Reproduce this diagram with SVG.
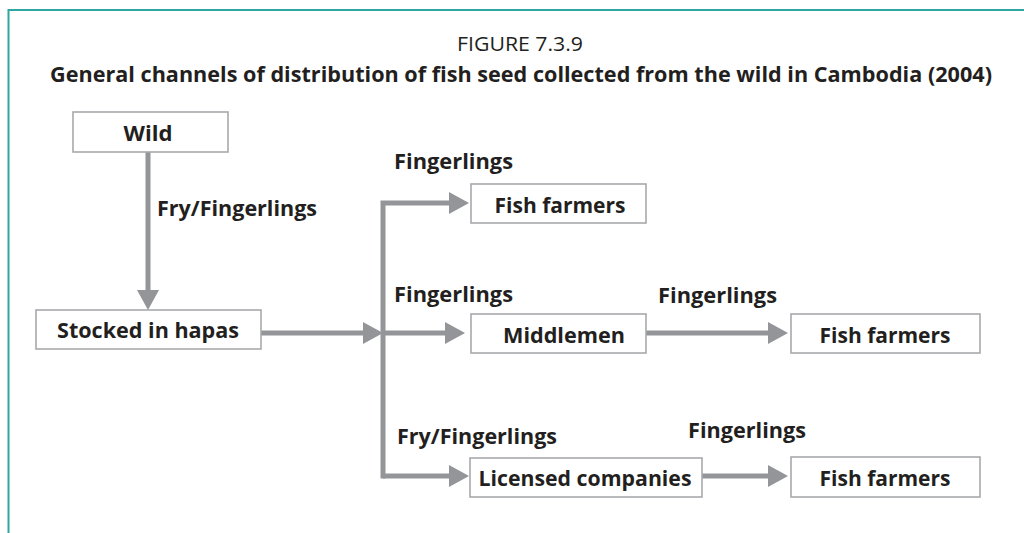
<svg xmlns="http://www.w3.org/2000/svg" width="1024" height="533" viewBox="0 0 1024 533">
  <style>
    .frame { fill: none; stroke: #2ea7a2; stroke-width: 2; }
    .box { fill: #ffffff; stroke: #a7a9ac; stroke-width: 1.6; }
    .lbl { font-family: "Open Sans", "Noto Sans", "Liberation Sans", sans-serif; font-weight: bold; font-size: 21px; fill: #231f20; }
    .mid { text-anchor: middle; }
    .cap { font-family: "Open Sans", "Noto Sans", "Liberation Sans", sans-serif; font-size: 20px; fill: #231f20; text-anchor: middle; }
    .flow { fill: none; stroke: #939598; stroke-width: 5; stroke-linecap: butt; stroke-linejoin: miter; marker-end: url(#head); }
  </style>
  <defs>
    <marker id="head" markerUnits="userSpaceOnUse" markerWidth="20" markerHeight="22" refX="0" refY="11" orient="auto" overflow="visible">
      <path d="M0,0 L20,11 L0,22 Z" fill="#939598"/>
    </marker>
  </defs>

  <rect width="1024" height="533" fill="#ffffff"/>

  <!-- page frame: top and left rules -->
  <path class="frame" d="M8.5,533 V10 H1024"/>

  <!-- caption -->
  <g id="caption">
    <text class="cap" x="520" y="51" textLength="126" lengthAdjust="spacingAndGlyphs">FIGURE 7.3.9</text>
    <text class="lbl mid" x="521" y="82" font-size="20" textLength="942" lengthAdjust="spacingAndGlyphs">General channels of distribution of fish seed collected from the wild in Cambodia (2004)</text>
  </g>

  <!-- connectors -->
  <g id="connectors">
    <path class="flow" d="M148,152 V290"/>
    <path class="flow" d="M261,333 H363"/>
    <!-- distribution trunk with upper and lower branches -->
    <path class="flow" d="M383,478.5 V203 H449"/>
    <path class="flow" d="M383,476 H449"/>
    <path class="flow" d="M383,333 H445"/>
    <path class="flow" d="M646,333 H768"/>
    <path class="flow" d="M702,476 H768"/>
  </g>

  <!-- flow labels -->
  <g id="labels">
    <text class="lbl" x="157" y="216" textLength="160" lengthAdjust="spacingAndGlyphs">Fry/Fingerlings</text>
    <text class="lbl" x="394" y="169" textLength="119" lengthAdjust="spacingAndGlyphs">Fingerlings</text>
    <text class="lbl" x="394" y="302" textLength="119" lengthAdjust="spacingAndGlyphs">Fingerlings</text>
    <text class="lbl" x="658" y="303" textLength="119" lengthAdjust="spacingAndGlyphs">Fingerlings</text>
    <text class="lbl" x="397" y="444" textLength="160" lengthAdjust="spacingAndGlyphs">Fry/Fingerlings</text>
    <text class="lbl" x="688" y="438" textLength="118" lengthAdjust="spacingAndGlyphs">Fingerlings</text>
  </g>

  <!-- nodes -->
  <g id="wild">
    <rect class="box" x="73" y="112" width="155" height="40"/>
    <text class="lbl mid" x="148" y="141" textLength="49" lengthAdjust="spacingAndGlyphs">Wild</text>
  </g>
  <g id="stocked-in-hapas">
    <rect class="box" x="36" y="310" width="225" height="39"/>
    <text class="lbl mid" x="148" y="338" textLength="182" lengthAdjust="spacingAndGlyphs">Stocked in hapas</text>
  </g>
  <g id="fish-farmers-1">
    <rect class="box" x="471" y="184" width="175" height="39"/>
    <text class="lbl mid" x="560" y="213" textLength="131" lengthAdjust="spacingAndGlyphs">Fish farmers</text>
  </g>
  <g id="middlemen">
    <rect class="box" x="471" y="314" width="175" height="39"/>
    <text class="lbl mid" x="564" y="343" textLength="122" lengthAdjust="spacingAndGlyphs">Middlemen</text>
  </g>
  <g id="fish-farmers-2">
    <rect class="box" x="791" y="314" width="189" height="39"/>
    <text class="lbl mid" x="885" y="343" textLength="131" lengthAdjust="spacingAndGlyphs">Fish farmers</text>
  </g>
  <g id="licensed-companies">
    <rect class="box" x="470" y="458" width="232" height="39"/>
    <text class="lbl mid" x="585" y="486" textLength="213" lengthAdjust="spacingAndGlyphs">Licensed companies</text>
  </g>
  <g id="fish-farmers-3">
    <rect class="box" x="791" y="457" width="189" height="40"/>
    <text class="lbl mid" x="885" y="486" textLength="131" lengthAdjust="spacingAndGlyphs">Fish farmers</text>
  </g>
</svg>
